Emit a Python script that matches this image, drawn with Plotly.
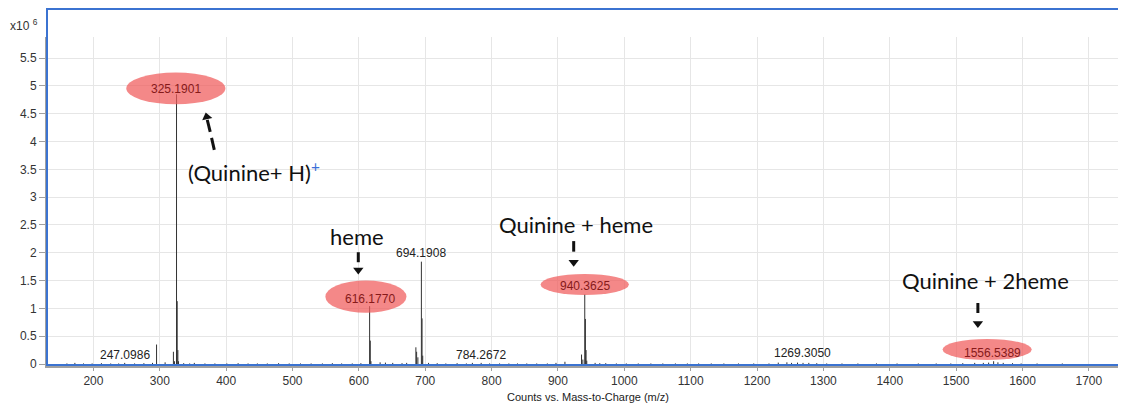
import plotly.graph_objects as go

# main peaks (m/z, counts x10^6)
peak_mz = [247.0986, 295.1, 308.0, 320.5, 322.2, 325.1901, 326.19, 327.2, 328.2,
           616.1770, 617.18, 618.2, 685.9, 687.0, 688.9, 694.1908, 695.19, 696.2,
           784.2672, 910.5, 935.5, 937.5, 940.3625, 941.36, 942.37, 943.4,
           1269.3050, 1556.5389]
peak_int = [0.02, 0.35, 0.03, 0.22, 0.05, 4.85, 1.13, 0.25, 0.05,
            1.04, 0.42, 0.05, 0.30, 0.22, 0.12, 1.84, 0.82, 0.15,
            0.02, 0.04, 0.17, 0.08, 1.25, 0.81, 0.25, 0.06,
            0.02, 0.05]

# small baseline peaks
minor_mz = [160, 172, 185, 198, 212, 226, 238, 262, 276, 289, 336, 345, 352, 368, 383,
            401, 418, 433, 447, 462, 479, 495, 512, 528, 545, 560, 574, 590, 603, 632,
            640, 651, 665, 672, 705, 718, 731, 748, 762, 771, 797, 812, 826, 839, 853,
            868, 884, 897, 956, 963, 972, 988, 1003, 1021, 1040, 1058, 1077, 1095, 1112,
            1131, 1150, 1172, 1195, 1218, 1232, 1245, 1252, 1261, 1278, 1290, 1305, 1328,
            1352, 1380, 1411, 1443, 1470, 1492, 1510, 1528, 1541, 1549, 1563, 1571, 1585,
            1598, 1622, 1660]
minor_int = [0.01, 0.02, 0.01, 0.01, 0.015, 0.01, 0.01, 0.01, 0.015, 0.02, 0.015, 0.01, 0.02, 0.01, 0.01,
             0.01, 0.015, 0.01, 0.01, 0.01, 0.015, 0.01, 0.01, 0.01, 0.01, 0.015, 0.01, 0.01, 0.015, 0.03,
             0.025, 0.02, 0.015, 0.02, 0.02, 0.015, 0.01, 0.015, 0.01, 0.02, 0.01, 0.01, 0.01, 0.01, 0.01,
             0.01, 0.01, 0.02, 0.02, 0.015, 0.015, 0.01, 0.01, 0.01, 0.01, 0.01, 0.01, 0.01, 0.01,
             0.01, 0.01, 0.01, 0.01, 0.01, 0.025, 0.03, 0.02, 0.025, 0.02, 0.015, 0.01, 0.01,
             0.01, 0.01, 0.01, 0.01, 0.01, 0.01, 0.015, 0.02, 0.02, 0.025, 0.03, 0.02, 0.015,
             0.01, 0.01, 0.01]

plain_labels = ["247.0986", "694.1908", "784.2672", "1269.3050"]
red_labels = ["325.1901", "616.1770", "940.3625", "1556.5389"]

all_mz = peak_mz + minor_mz
all_int = peak_int + minor_int
xs, ys = [], []
for m, v in zip(all_mz, all_int):
    xs += [m, m, None]
    ys += [0, v, None]

fig = go.Figure()
fig.add_trace(go.Scatter(x=xs, y=ys, mode="lines", line=dict(color="#333", width=1),
                         hoverinfo="skip", showlegend=False))

# red ellipses behind the highlighted labels
ellipses = [(249.5, 398.8, 4.67, 5.24), (549.5, 671.7, 0.92, 1.50),
            (873.8, 1006.9, 1.24, 1.62), (1479.6, 1613.9, 0.07, 0.45)]
for x0, x1, y0, y1 in ellipses:
    fig.add_shape(type="circle", xref="x", yref="y", x0=x0, x1=x1, y0=y0, y1=y1,
                  fillcolor="rgba(240,90,90,0.72)", line=dict(width=0), layer="above")

red_pos = [(325.0, 4.94), (616.0, 1.17), (940.0, 1.40), (1555.4, 0.20)]
for txt, (x, y) in zip(red_labels, red_pos):
    fig.add_annotation(x=x, y=y, text=txt, showarrow=False,
                       font=dict(family="Liberation Sans, Arial", size=12, color="#861a1a"))

plain_pos = [(246.8, 0.16), (694.19, 2.0), (784.4, 0.17), (1268.9, 0.19)]
for txt, (x, y) in zip(plain_labels, plain_pos):
    fig.add_annotation(x=x, y=y, text=txt, showarrow=False,
                       font=dict(family="Liberation Sans, Arial", size=12, color="#222"))

# big text labels
big = [("(Quinine+ H)<sup><span style='color:#3a6fd8'>+</span></sup>", 441.6, 3.46),
       ("heme", 597.0, 2.30), ("Quinine + heme", 927.4, 2.50), ("Quinine + 2heme", 1544.7, 1.51)]
for txt, x, y in big:
    fig.add_annotation(x=x, y=y, text=txt, showarrow=False,
                       font=dict(family="Lato, Open Sans", size=22, color="#111"))

# dashed arrow shafts
dashes = [(382.1, 3.849, 378.0, 4.065), (376.0, 4.173, 371.5, 4.388),
          (599.1, 2.01, 599.1, 1.83), (923.7, 2.21, 923.7, 2.02),
          (1532.8, 1.097, 1532.8, 0.917)]
for x0, y0, x1, y1 in dashes:
    fig.add_shape(type="line", xref="x", yref="y", x0=x0, y0=y0, x1=x1, y1=y1,
                  line=dict(color="#111", width=3))

# arrow heads
fig.add_trace(go.Scatter(x=[370.7], y=[4.442], mode="markers", hoverinfo="skip", showlegend=False,
                         marker=dict(symbol="triangle-up", size=9, angle=-13, color="#111")))
fig.add_trace(go.Scatter(x=[599.1, 923.7, 1532.8], y=[1.69, 1.83, 0.728], mode="markers",
                         hoverinfo="skip", showlegend=False,
                         marker=dict(symbol="triangle-down", size=9, color="#111")))

# blue outer frame
fig.add_shape(type="rect", xref="paper", yref="paper", x0=0, x1=1, y0=0.003, y1=1.085,
              line=dict(color="#3b73d1", width=2), layer="above")

fig.add_annotation(xref="paper", yref="paper", x=-0.036, y=1.036, xanchor="left", yanchor="middle",
                   text="x10 <sup>6</sup>", showarrow=False,
                   font=dict(family="Liberation Sans, Arial", size=12, color="#333"))
fig.add_annotation(xref="paper", yref="paper", x=0.502, y=-0.094, yanchor="middle",
                   text="Counts vs. Mass-to-Charge (m/z)", showarrow=False,
                   font=dict(family="Liberation Sans, Arial", size=11, color="#222"))

fig.update_xaxes(range=[130, 1753], dtick=100, tick0=0, showgrid=True, gridcolor="#e6e6e6",
                 showline=True, linecolor="#a0a0a0", linewidth=2, ticks="outside", ticklen=3,
                 tickcolor="#a0a0a0", zeroline=False,
                 tickfont=dict(family="Liberation Sans, Arial", size=12, color="#333"))
fig.update_yaxes(range=[-0.036, 5.88], dtick=0.5, tick0=0, showgrid=True, gridcolor="#e6e6e6",
                 showline=True, linecolor="#a0a0a0", linewidth=2, ticks="outside", ticklen=6,
                 tickcolor="#a0a0a0", zeroline=False,
                 tickfont=dict(family="Liberation Sans, Arial", size=12, color="#333"))
# the page body adds an 8px margin, so the figure is 8px smaller each way
fig.update_layout(width=1118, height=399, margin=dict(l=39, r=2, t=29, b=41),
                  plot_bgcolor="white", paper_bgcolor="white", showlegend=False)

fig.write_html("out.html")
